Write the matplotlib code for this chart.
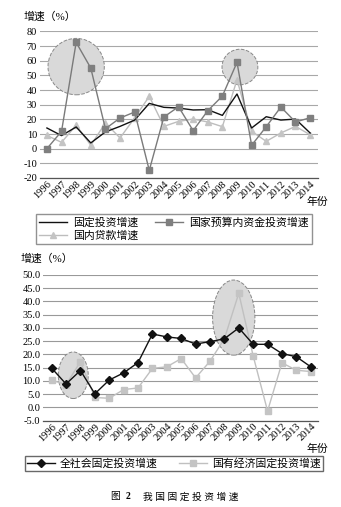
import matplotlib
matplotlib.use("Agg")
import matplotlib.pyplot as plt
from matplotlib.patches import Ellipse
from matplotlib.ticker import FormatStrFormatter

plt.rcParams['font.family'] = ['Liberation Serif', 'Noto Sans CJK SC', 'DejaVu Sans']
plt.rcParams['axes.unicode_minus'] = True

years = list(range(1996, 2015))

# 上图：固定投资、国家预算内资金、国内贷款增速（%）
fixed_invest = [14.1, 8.9, 14.8, 3.9, 11.4, 15.2, 19.5, 30.9, 28.2, 27.7,
                26.4, 26.6, 22.7, 37.3, 14.1, 21.8, 19.5, 20.2, 10.7]
budget_funds = [0.0, 11.8, 72.5, 55.0, 13.6, 20.9, 25.0, -14.8, 21.6, 28.6,
                12.3, 25.9, 35.9, 58.9, 2.3, 15.0, 28.4, 18.2, 21.1]
domestic_loan = [9.0, 4.3, 16.0, 2.3, 17.5, 7.3, 21.0, 35.7, 15.2, 18.6,
                 20.2, 18.2, 15.0, 47.0, 11.8, 5.0, 10.7, 15.2, 9.5]

# 下图：全社会与国有经济固定投资增速（%）
total_fixed = [14.8, 8.8, 13.9, 5.1, 10.3, 13.0, 16.9, 27.7, 26.6, 26.0,
               23.9, 24.8, 25.9, 30.0, 23.8, 23.8, 20.3, 19.1, 15.3]
state_fixed = [10.2, 8.6, 17.2, 3.7, 3.4, 6.7, 7.3, 14.7, 15.3, 18.4,
               11.1, 17.4, 25.9, 43.1, 19.4, -1.4, 16.8, 14.0, 13.5]

top_ticks = list(range(-20, 81, 10))
bottom_ticks = list(range(-5, 51, 5))

fig = plt.figure(figsize=(3.41, 5.07), dpi=100)

def style_axes(ax, ticks, grid_color):
    ax.set_yticks(ticks)
    ax.set_ylim(ticks[0], ticks[-1])
    ax.set_xticks(years)
    ax.set_xticklabels([str(y) for y in years], rotation=45, ha='right',
                       rotation_mode='anchor', fontsize=7.2)
    ax.tick_params(axis='both', length=0, pad=2, labelsize=7.5)
    ax.tick_params(axis='x', pad=1)
    for s in ['top', 'right', 'left']:
        ax.spines[s].set_visible(False)
    ax.spines['bottom'].set_color('#555555')
    ax.spines['bottom'].set_linewidth(0.9)
    ax.yaxis.grid(True, color=grid_color, linewidth=0.8, zorder=0)
    ax.set_axisbelow(True)

# ---- 上图 ----
ax1 = fig.add_axes([0.117, 0.649, 0.816, 0.289])
ax1.set_xlim(1995.52, 2014.55)
style_axes(ax1, top_ticks, '#a8a8a8')
ax1.add_patch(Ellipse((1998.0, 56), 3.85, 38.5, facecolor='#d9d9d9',
                      edgecolor='#888888', linestyle='--', linewidth=0.7, zorder=1))
ax1.add_patch(Ellipse((2009.2, 55.7), 2.45, 24.3, facecolor='#d9d9d9',
                      edgecolor='#888888', linestyle='--', linewidth=0.7, zorder=1))
l1, = ax1.plot(years, fixed_invest, color='#111111', linewidth=1.0, zorder=3,
               label='固定投资增速')
l3, = ax1.plot(years, domestic_loan, color='#bdbdbd', linewidth=1.0, marker='^',
               markersize=4, markerfacecolor='#c4c4c4', markeredgecolor='#c4c4c4',
               zorder=2, label='国内贷款增速')
l2, = ax1.plot(years, budget_funds, color='#7a7a7a', linewidth=1.0, marker='s',
               markersize=4.5, markerfacecolor='#7f7f7f', markeredgecolor='#7f7f7f',
               zorder=4, label='国家预算内资金投资增速')
ax1.yaxis.set_major_formatter(FormatStrFormatter('%d'))
fig.text(0.07, 0.968, '增速（%）', fontsize=7.8, ha='left', va='center')
fig.text(0.90, 0.601, '年份', fontsize=7.8, ha='left', va='center')
fig.legend(handles=[l1, l3, l2], ncol=2, loc='upper left',
           bbox_to_anchor=(0.105, 0.578), fontsize=7.8, frameon=True,
           fancybox=False, edgecolor='#777777', borderpad=0.3,
           handlelength=2.6, handletextpad=0.5, columnspacing=1.6,
           labelspacing=0.3, borderaxespad=0)

# ---- 下图 ----
ax2 = fig.add_axes([0.127, 0.1706, 0.805, 0.287])
ax2.set_xlim(1995.42, 2014.49)
style_axes(ax2, bottom_ticks, '#999999')
ax2.yaxis.set_major_formatter(FormatStrFormatter('%.1f'))
ax2.add_patch(Ellipse((1997.5, 12.1), 2.08, 17.6, facecolor='#d9d9d9',
                      edgecolor='#888888', linestyle='--', linewidth=0.7, zorder=1))
ax2.add_patch(Ellipse((2008.65, 33.9), 2.94, 28.4, facecolor='#d9d9d9',
                      edgecolor='#888888', linestyle='--', linewidth=0.7, zorder=1))
m2, = ax2.plot(years, state_fixed, color='#c0c0c0', linewidth=1.0, marker='s',
               markersize=4.5, markerfacecolor='#c4c4c4', markeredgecolor='#c4c4c4',
               zorder=2, label='国有经济固定投资增速')
m1, = ax2.plot(years, total_fixed, color='#111111', linewidth=1.0, marker='D',
               markersize=3.8, markerfacecolor='#111111', markeredgecolor='#111111',
               zorder=3, label='全社会固定投资增速')
fig.text(0.06, 0.489, '增速（%）', fontsize=7.8, ha='left', va='center')
fig.text(0.90, 0.115, '年份', fontsize=7.8, ha='left', va='center')
fig.legend(handles=[m1, m2], ncol=2, loc='upper left',
           bbox_to_anchor=(0.073, 0.100), fontsize=7.8, frameon=True,
           fancybox=False, edgecolor='#444444', borderpad=0.2,
           handlelength=2.6, handletextpad=0.4, columnspacing=2.0,
           borderaxespad=0)

# 图题
fig.text(0.323, 0.02, '图', fontsize=7, ha='left', va='center')
fig.text(0.367, 0.02, '2', fontsize=7, fontweight='bold', ha='left', va='center')
fig.text(0.42, 0.02, '我 国 固 定 投 资 增 速', fontsize=7, ha='left', va='center')

fig.savefig('out.png', dpi=100)
